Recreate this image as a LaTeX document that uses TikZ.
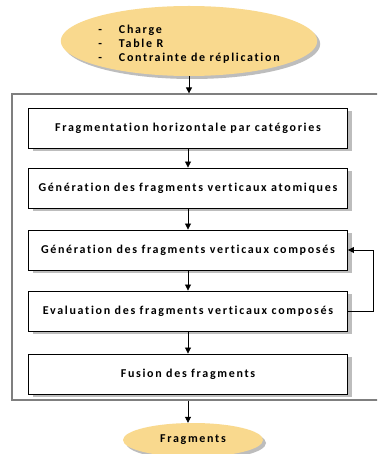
\documentclass[tikz,border=0pt]{standalone}
\usepackage{fontspec}
\setmainfont{Carlito}[LetterSpace=14, Ligatures=NoCommon]
\usetikzlibrary{shadows,arrows.meta}
\definecolor{ellfill}{HTML}{F9D98E}
\definecolor{shade}{HTML}{BDBDBD}
\definecolor{outline}{HTML}{7F7F7F}
\tikzset{
  stepbox/.style={draw=black, line width=0.9pt, fill=white, minimum width=319pt, minimum height=40pt, inner sep=0pt,
    font=\bfseries\fontsize{12}{14}\selectfont,
    drop shadow={shadow xshift=4pt, shadow yshift=-3pt, fill=shade, opacity=1}},
  ell/.style={ellipse, fill=ellfill, draw=none, inner sep=0pt, font=\bfseries\fontsize{12}{14}\selectfont,
    drop shadow={shadow xshift=3pt, shadow yshift=-3pt, fill=shade, opacity=1}},
  conn/.style={draw=black, line width=0.8pt, -{Triangle[length=6pt,width=6pt]}},
}
\usetikzlibrary{shapes.geometric}
\begin{document}
\begin{tikzpicture}[x=1pt,y=-1pt]
\useasboundingbox (0,0) rectangle (377,454);
\clip (0,0) rectangle (377,454);
\fill[white] (0,0) rectangle (377,454);
\node[draw=outline, line width=1.2pt, minimum width=380pt, minimum height=306pt, inner sep=0pt] (outer) at (202,247) {};
\node[ell, minimum width=238pt, minimum height=70pt] (top) at (189,41) {\raisebox{-7pt}[0pt][0pt]{\begin{tabular}{@{}l@{\hspace{17pt}}l@{}}-&Charge\\-&Table R\\-&Contrainte de réplication\end{tabular}}};
\node[stepbox] (b1) at (188,128) {Fragmentation horizontale par catégories};
\node[stepbox] (b2) at (188,188) {Génération des fragments verticaux atomiques};
\node[stepbox] (b3) at (188,250) {Génération des fragments verticaux composés};
\node[stepbox] (b4) at (188,311) {Evaluation des fragments verticaux composés};
\node[stepbox] (b5) at (188,374) {Fusion des fragments};
\node[ell, minimum width=140pt, minimum height=34pt] (bot) at (193,440) {Fragments};
\coordinate (loop) at (373,0);
\draw[conn] (top.south) -- (top.south |- outer.north);
\draw[conn] (b1) -- (b2);
\draw[conn] (b2) -- (b3);
\draw[conn] (b3) -- (b4);
\draw[conn] (b4) -- (b5);
\draw[conn] (b5.south |- outer.south) -- (b5.south |- bot.north);
\draw[conn] (b4.east) -- (b4.east -| loop) |- (b3.east);
\end{tikzpicture}
\end{document}
